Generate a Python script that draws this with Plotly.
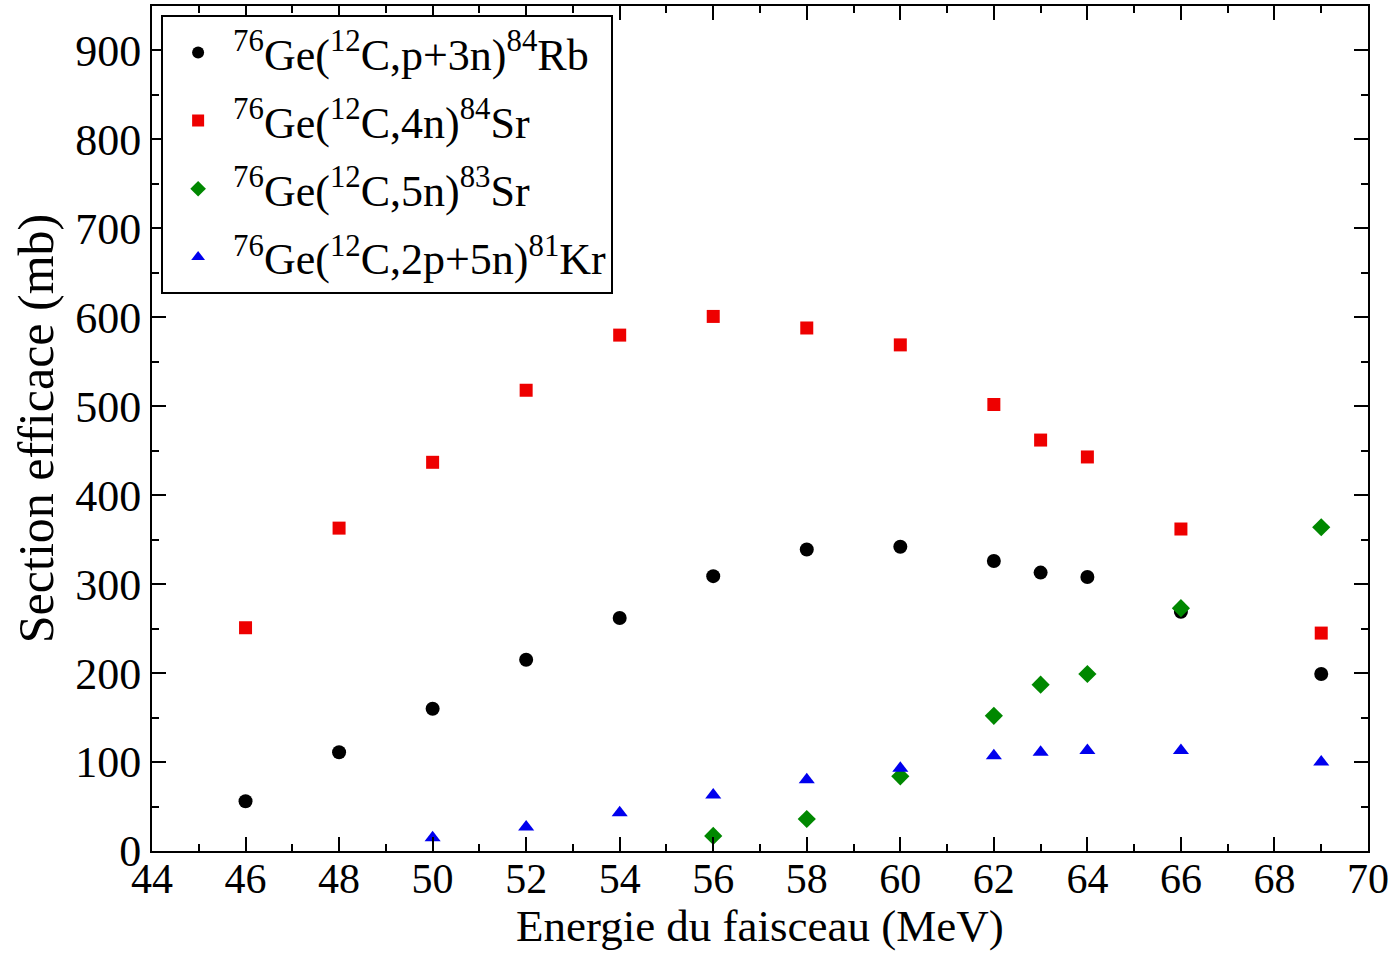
import plotly.graph_objects as go

energy_rb = [46, 48, 50, 52, 54, 56, 58, 60, 62, 63, 64, 66, 69]
sigma_rb = [56, 111, 160, 215, 262, 309, 339, 342, 326, 313, 308, 269, 199]

energy_sr84 = [46, 48, 50, 52, 54, 56, 58, 60, 62, 63, 64, 66, 69]
sigma_sr84 = [251, 363, 437, 518, 580, 601, 588, 569, 502, 462, 443, 362, 245]

energy_sr83 = [56, 58, 60, 62, 63, 64, 66, 69]
sigma_sr83 = [17, 36, 84, 152, 187, 199, 273, 364]

energy_kr = [50, 52, 54, 56, 58, 60, 62, 63, 64, 66, 69]
sigma_kr = [15, 27, 43, 63, 80, 93, 107, 111, 113, 113, 100]

names = [
    "<sup>76</sup>Ge(<sup>12</sup>C,p+3n)<sup>84</sup>Rb",
    "<sup>76</sup>Ge(<sup>12</sup>C,4n)<sup>84</sup>Sr",
    "<sup>76</sup>Ge(<sup>12</sup>C,5n)<sup>83</sup>Sr",
    "<sup>76</sup>Ge(<sup>12</sup>C,2p+5n)<sup>81</sup>Kr",
]
x_title = "Energie du faisceau (MeV)"
y_title = "Section efficace (mb)"

fig = go.Figure()
fig.add_trace(go.Scatter(x=energy_rb, y=sigma_rb, mode="markers", name=names[0], legendgroup="a",
                         marker=dict(symbol="circle", size=14, color="black")))
fig.add_trace(go.Scatter(x=energy_sr84, y=sigma_sr84, mode="markers", name=names[1], legendgroup="b",
                         marker=dict(symbol="square", size=13, color="#ee0000")))
fig.add_trace(go.Scatter(x=energy_sr83, y=sigma_sr83, mode="markers", name=names[2], legendgroup="c",
                         marker=dict(symbol="diamond", size=14, color="#008800")))
fig.add_trace(go.Scatter(x=energy_kr, y=sigma_kr, mode="markers", name=names[3], legendgroup="d",
                         marker=dict(symbol="triangle-up", size=14, color="#0000ee")))

font_family = "Liberation Serif"
plot_h = 954 - 6 - 103
fig.update_layout(
    width=1398, height=954,
    margin=dict(l=152, r=30, t=6, b=103),
    paper_bgcolor="white", plot_bgcolor="white",
    font=dict(family=font_family, size=44, color="black"),
    showlegend=True,
    legend=dict(x=0.0075, y=0.989, xanchor="left", yanchor="top",
                bordercolor="black", borderwidth=2, bgcolor="white",
                font=dict(size=44, family=font_family), tracegroupgap=8,
                itemsizing="constant", itemwidth=60),
    xaxis=dict(
        range=[44, 70], dtick=2, tick0=44,
        ticks="inside", ticklen=14, tickwidth=2, tickcolor="black",
        minor=dict(dtick=1, ticks="inside", ticklen=7, tickwidth=2, tickcolor="black"),
        showline=True, linecolor="black", linewidth=2, mirror="ticks",
        showgrid=False, zeroline=False, automargin=False,
        tickfont=dict(size=42), ticklabelstandoff=-10,
    ),
    yaxis=dict(
        range=[0, 950], dtick=100, tick0=0,
        ticks="inside", ticklen=14, tickwidth=2, tickcolor="black",
        minor=dict(dtick=50, ticks="inside", ticklen=7, tickwidth=2, tickcolor="black"),
        showline=True, linecolor="black", linewidth=2, mirror="ticks",
        showgrid=False, zeroline=False, automargin=False,
        tickfont=dict(size=44),
        title=dict(text=y_title, font=dict(size=50), standoff=6),
    ),
    annotations=[dict(text=x_title, xref="paper", yref="paper", x=0.5, y=-(926 - 851) / plot_h,
                      xanchor="center", yanchor="middle", showarrow=False,
                      font=dict(size=45, family=font_family, color="black"))],
)

fig.write_html("out.html")
